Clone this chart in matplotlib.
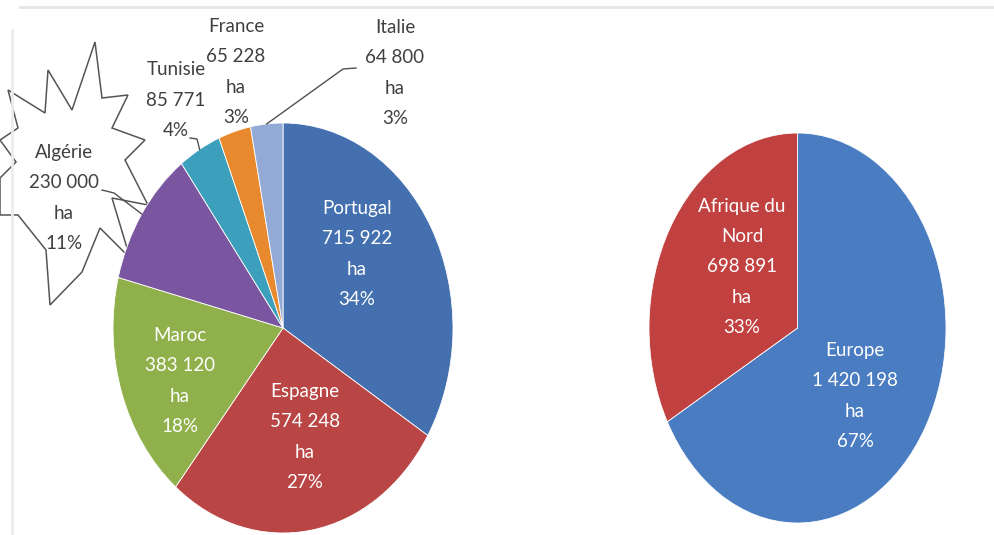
import matplotlib
matplotlib.use("Agg")
import matplotlib.pyplot as plt
from matplotlib.patches import Polygon
from matplotlib.lines import Line2D
import numpy as np

# Surfaces (ha) by country
countries = ["Portugal", "Espagne", "Maroc", "Algérie", "Tunisie", "France", "Italie"]
areas = [715922, 574248, 383120, 230000, 85771, 65228, 64800]
country_colors = ["#4470B0", "#B94545", "#8FB04A", "#7A55A0", "#3CA0BD", "#E8892E", "#93A9D6"]

# Surfaces (ha) by region
regions = ["Europe", "Afrique du\nNord"]
region_areas = [1420198, 698891]
region_colors = ["#4A7CC2", "#C0413F"]

W, H = 995, 535
FONT = ["Lato", "DejaVu Sans"]
plt.rcParams["font.family"] = FONT
FS = 13.5
LS = 1.95


def fmt(v):
    return f"{v:,}".replace(",", " ")


def pct(v, tot):
    return f"{round(v / tot * 100)}%"


def fx(px):
    return px / W


def fy(py):
    return 1 - py / H


fig = plt.figure(figsize=(W / 100, H / 100), dpi=100)
fig.patch.set_facecolor("white")

# faint page edges
fig.add_artist(Line2D([fx(20), 1], [fy(7), fy(7)], color="#e6e6e6", lw=2))
fig.add_artist(Line2D([fx(12), fx(12)], [fy(30), 0], color="#ececec", lw=2))


def pie_axes(x0, x1, y0, y1):
    return fig.add_axes([fx(x0), fy(y1), fx(x1) - fx(x0), fy(y0) - fy(y1)])


# ---- left pie: countries ----
axL = pie_axes(113, 453, 123, 533)
axL.pie(areas, colors=country_colors, startangle=90, counterclock=False,
        radius=1, wedgeprops=dict(linewidth=0.6, edgecolor="white"))
axL.set_aspect("auto")
axL.set_xlim(-1, 1)
axL.set_ylim(-1, 1)
axL.axis("off")

total = sum(areas)

# labels inside the large wedges (figure pixel centres)
inside_pos = {"Portugal": (357, 254), "Espagne": (305, 437), "Maroc": (180, 381)}
for name, val in zip(countries, areas):
    if name in inside_pos:
        x, y = inside_pos[name]
        fig.text(fx(x), fy(y), f"{name}\n{fmt(val)}\nha\n{pct(val, total)}",
                 ha="center", va="center", color="white", fontsize=FS,
                 linespacing=LS)

# labels outside the small wedges
outside_pos = {"Algérie": (64, 198), "Tunisie": (176, 100),
               "France": (236, 72), "Italie": (395, 73)}

# starburst behind the Algérie label
burst = [(95, 42), (102, 98), (128, 95), (112, 128), (145, 140), (125, 160),
         (148, 205), (112, 198), (130, 258), (100, 228), (82, 272), (50, 305),
         (46, 250), (18, 215), (0, 215), (0, 178), (16, 162), (0, 140),
         (18, 128), (8, 90), (45, 113), (48, 70), (72, 110)]
fig.add_artist(Polygon([(fx(x), fy(y)) for x, y in burst], closed=True,
                       facecolor="white", edgecolor="#555555", lw=1.1,
                       transform=fig.transFigure, zorder=-1))

for name, val in zip(countries, areas):
    if name in outside_pos:
        x, y = outside_pos[name]
        if name == "Tunisie":
            txt = f"{name}\n{fmt(val)}\n{pct(val, total)}"
        else:
            txt = f"{name}\n{fmt(val)}\nha\n{pct(val, total)}"
        fig.text(fx(x), fy(y), txt, ha="center", va="center", color="#404040",
                 fontsize=FS, linespacing=LS)

# leader lines from label ends to the middle of each small wedge
leader_start = {"Algérie": [(102, 190), (114, 193)],
                "Tunisie": [(190, 138), (197, 139)],
                "Italie": [(356, 68), (343, 69)]}
cum = np.cumsum([0] + areas) / total
for i, name in enumerate(countries):
    if name in leader_start:
        mid = (cum[i] + cum[i + 1]) / 2
        ang = np.deg2rad(90 - mid * 360)
        disp = axL.transData.transform((np.cos(ang), np.sin(ang)))
        ex, ey = fig.transFigure.inverted().transform(disp)
        pts = leader_start[name]
        xs = [fx(p[0]) for p in pts] + [ex]
        ys = [fy(p[1]) for p in pts] + [ey]
        fig.add_artist(Line2D(xs, ys, color="#505050", lw=1.0))

# ---- right pie: regions ----
axR = pie_axes(649, 946, 133, 523)
axR.pie(region_areas, colors=region_colors, startangle=90, counterclock=False,
        radius=1, wedgeprops=dict(linewidth=0.6, edgecolor="white"))
axR.set_aspect("auto")
axR.set_xlim(-1, 1)
axR.set_ylim(-1, 1)
axR.axis("off")

rtotal = sum(region_areas)
region_pos = {"Europe": (855, 396), "Afrique du\nNord": (742, 267)}
for name, val in zip(regions, region_areas):
    x, y = region_pos[name]
    fig.text(fx(x), fy(y), f"{name}\n{fmt(val)}\nha\n{pct(val, rtotal)}",
             ha="center", va="center", color="white", fontsize=FS,
             linespacing=LS)

fig.savefig("out.png", dpi=100)
